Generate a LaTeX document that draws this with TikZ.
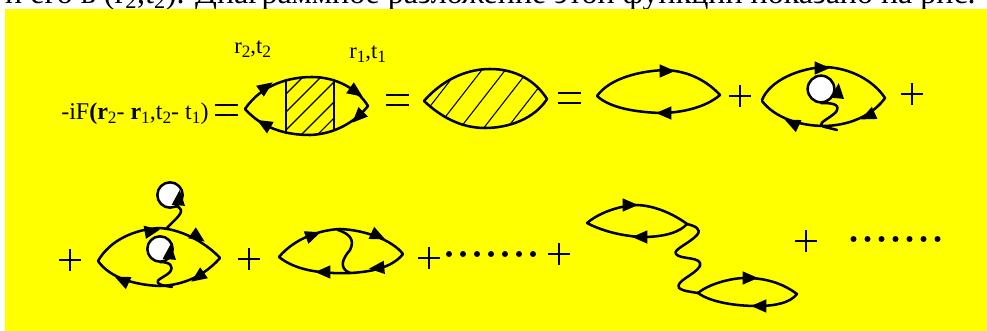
\documentclass[tikz,border=0pt]{standalone}
\usepackage{fontspec}
\setmainfont{Liberation Serif}
\usetikzlibrary{arrows.meta}
\definecolor{bgy}{RGB}{255,255,0}
\tikzset{
  ln/.style={line width=1.9pt,line cap=round,line join=round},
  hatch/.style={line width=0.8pt},
  lab/.style={inner sep=0pt,font=\fontsize{17}{17}\selectfont},
  dotm/.style={circle,fill=black,minimum size=4.5pt,inner sep=0pt},
  bub/.style={circle,draw=black,fill=white,line width=1.9pt,minimum size=20pt,inner sep=0pt}
}
\newcommand{\sbs}[1]{\raisebox{-0.35ex}{\fontsize{13}{13}\selectfont #1}}
\newcommand{\hd}[3]{\fill[black,shift={(#1,#2)},rotate=-#3] (6pt,0) -- (-5.5pt,-5pt) -- (-5.5pt,5pt) -- cycle;}
\newcommand{\plusm}[2]{\draw[line width=1pt] (#1-11,#2) -- (#1+11,#2) (#1,#2-11) -- (#1,#2+11);}
\newcommand{\eqm}[2]{\draw[line width=1.5pt] (#1-11.5,#2-5) -- (#1+11.5,#2-5) (#1-11.5,#2+5) -- (#1+11.5,#2+5);}
\begin{document}
\begin{tikzpicture}[x=0.75pt,y=-0.75pt]
\useasboundingbox (0,0) rectangle (987,331);
\fill[white] (0,0) rectangle (987,331);
\fill[bgy] (5,9) rectangle (987,331);
% top text, cut by the page edge and the yellow panel
\begin{scope}
\clip (0,0) rectangle (987,9);
\node[anchor=base east,inner sep=0pt,font=\fontsize{24}{24}\selectfont] (top) at (976,3.5) {и его в (r\textsubscript{2},t\textsubscript{2}). Диаграммное разложение этой функции показано на рис.};
\end{scope}
% labels
\node[lab,anchor=base west] (t1) at (234,54) {r\sbs{2},t\sbs{2}};
\node[lab,anchor=base west] (t2) at (349,59) {r\sbs{1},t\sbs{1}};
\node[lab,anchor=base west,font=\fontsize{18}{18}\selectfont] (t3) at (61,120) {-iF\textbf{(r}\sbs{2}- \textbf{r}\sbs{1},t\sbs{2}- t\sbs{1})};
% diagram 1
\eqm{226}{110}
\begin{scope}
\clip (286,70) rectangle (334,140);
\clip (245,109) .. controls (262,84) and (290,77) .. (312,77) .. controls (335,77) and (357,88) .. (368,106) .. controls (355,122) and (335,134) .. (310,135) .. controls (285,135) and (262,128) .. (245,109) -- cycle;
\foreach \c in {380,398,416,436,452}{\draw[hatch] ({\c-145},145) -- ({\c-65},65);}
\end{scope}
\draw[ln] (245,109) .. controls (262,84) and (290,77) .. (312,77) .. controls (335,77) and (357,88) .. (368,106) .. controls (355,122) and (335,134) .. (310,135) .. controls (285,135) and (262,128) .. (245,109);
\draw[ln] (286,80) -- (286,133) (334,80) -- (334,130);
\hd{266}{87}{-35}\hd{356}{92}{35}\hd{358}{117}{135}\hd{264}{124}{210}
% diagram 2
\eqm{397}{100}
\begin{scope}
\clip (424,101) .. controls (445,77) and (470,69) .. (490,69) .. controls (515,69) and (535,80) .. (547,99) .. controls (535,118) and (510,128) .. (485,128) .. controls (460,128) and (440,116) .. (424,101) -- cycle;
\foreach \k in {0,...,8}{\draw[hatch] ({400+\k*23.5},145) -- ({470+\k*23.5},55);}
\end{scope}
\draw[ln] (424,101) .. controls (445,77) and (470,69) .. (490,69) .. controls (515,69) and (535,80) .. (547,99) .. controls (535,118) and (510,128) .. (485,128) .. controls (460,128) and (440,116) .. (424,101) -- cycle;
\eqm{569}{98}
% diagram 3
\draw[ln] (597,96) .. controls (610,78) and (640,71) .. (665,70) .. controls (690,71) and (708,82) .. (720,95) .. controls (705,108) and (680,113) .. (660,113) .. controls (635,112) and (610,108) .. (597,96);
\hd{667}{71}{0}\hd{664}{113}{180}
\plusm{740}{96}
% diagram 4
\draw[ln] (762,100) .. controls (770,80) and (800,68) .. (825,67) .. controls (850,68) and (873,80) .. (885,98) .. controls (875,112) and (855,125) .. (825,126) .. controls (800,126) and (775,118) .. (762,101);
\draw[ln] (821,103) .. controls (832,103) and (841,104) .. (836,112) .. controls (830,118) and (820,122) .. (821,125) .. controls (822,127) and (830,128) .. (837,130);
\node[bub] (b1) at (821,89) {};
\hd{838}{91}{-85}\hd{822}{68}{0}\hd{868}{116}{155}\hd{792}{123}{205}
\plusm{912}{94}
% bottom row
\plusm{70}{260}
\draw[ln] (98,261) .. controls (110,240) and (135,229) .. (160,228) .. controls (185,230) and (208,245) .. (220,258) .. controls (205,275) and (185,285) .. (160,286) .. controls (135,285) and (110,278) .. (98,261);
\draw[ln] (166,229) .. controls (172,222) and (182,215) .. (181,210) .. controls (180,206) and (172,205) .. (170,205);
\draw[ln] (160,262) .. controls (170,262) and (174,266) .. (170,272) .. controls (165,277) and (155,280) .. (158,283) .. controls (161,286) and (168,286) .. (172,287);
\node[bub,minimum size=19pt] (b2) at (170,195) {};
\node[bub,minimum size=19pt] (b3) at (160,249) {};
\hd{179}{198}{-85}\hd{170}{252}{-85}
\hd{152}{231}{-10}\hd{198}{237}{35}\hd{198}{277}{145}\hd{122}{280}{205}
\plusm{249}{259}
% diagram 6
\draw[ln] (279,257) .. controls (295,238) and (320,230) .. (340,229) .. controls (365,230) and (392,240) .. (403,254) .. controls (392,268) and (370,272) .. (350,273) .. controls (320,274) and (295,270) .. (279,257);
\draw[ln] (338,230) .. controls (350,234) and (355,240) .. (350,250) .. controls (343,258) and (338,268) .. (350,273);
\hd{313}{235}{-20}\hd{378}{236}{25}\hd{377}{268}{175}\hd{323}{272}{180}
\plusm{429}{258}
\foreach \x [count=\i] in {449,463,477,491,505,519,533}{\node[dotm] (da\i) at (\x,254) {};}
\plusm{559}{254}
% diagram 7
\draw[ln] (587,223) .. controls (600,212) and (620,206) .. (635,205) .. controls (655,205) and (675,215) .. (687,224) .. controls (680,232) and (665,237) .. (642,237) .. controls (620,236) and (600,230) .. (587,223);
\draw[ln] (687,224) .. controls (695,226) and (702,229) .. (697,235) .. controls (690,243) and (672,250) .. (676,254) .. controls (680,260) and (703,256) .. (700,266) .. controls (695,275) and (675,281) .. (679,288) .. controls (682,291) and (692,292) .. (698,293);
\draw[ln] (698,293) .. controls (710,283) and (735,277) .. (750,278) .. controls (770,279) and (785,285) .. (797,294) .. controls (790,303) and (775,306) .. (757,306) .. controls (735,306) and (710,302) .. (698,293);
\hd{630}{205}{0}\hd{640}{237}{180}\hd{750}{278}{0}\hd{759}{306}{180}
\plusm{806}{241}
\foreach \x [count=\i] in {853.5,867.5,881.5,895.5,909.5,923.5,937.5}{\node[dotm] (db\i) at (\x,239) {};}
\end{tikzpicture}
\end{document}
